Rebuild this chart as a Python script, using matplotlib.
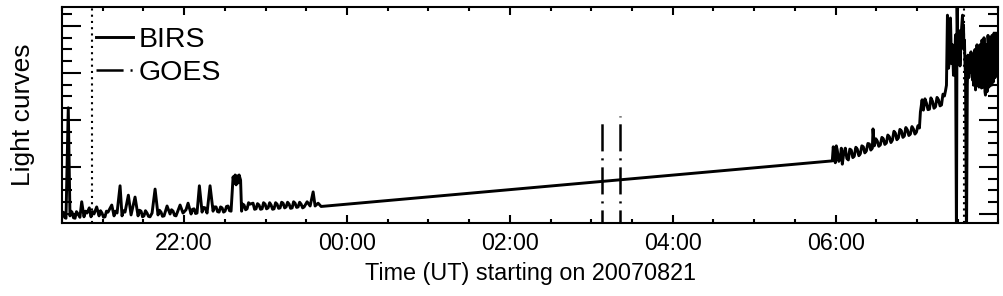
import numpy as np
import matplotlib
matplotlib.use("Agg")
import matplotlib.pyplot as plt
import matplotlib.ticker as mticker

plt.rcParams["font.family"] = ["Liberation Sans", "DejaVu Sans"]
plt.rcParams["lines.scale_dashes"] = False

# BIRS light curve, hours since 00:00 UT on 20070821 (values > 24 are next day)
# quiet part before the data gap
birs_hours_early = [
    20.500, 20.512, 20.525, 20.537, 20.549, 20.577, 20.598, 20.610, 20.623, 20.641,
    20.660, 20.678, 20.697, 20.720, 20.742, 20.770, 20.788, 20.807, 20.835, 20.856,
    20.875, 20.893, 20.926, 20.955, 20.973, 20.991, 21.010, 21.028, 21.046, 21.065,
    21.111, 21.139, 21.158, 21.176, 21.213, 21.237, 21.255, 21.274, 21.315, 21.348,
    21.397, 21.434, 21.452, 21.471, 21.489, 21.507, 21.525, 21.544, 21.562, 21.581,
    21.606, 21.643, 21.679, 21.697, 21.716, 21.734, 21.753, 21.790, 21.827, 21.845,
    21.864, 21.882, 21.900, 21.950, 21.986, 22.023, 22.048, 22.085, 22.103, 22.122,
    22.140, 22.158, 22.187, 22.220, 22.238, 22.257, 22.281, 22.318, 22.355, 22.373,
    22.392, 22.410, 22.429, 22.447, 22.466, 22.484, 22.502, 22.520, 22.539, 22.557,
    22.576, 22.601, 22.613, 22.626, 22.638, 22.650, 22.662, 22.675, 22.693, 22.705,
    22.720, 22.736, 22.755, 22.773, 22.791, 22.810, 22.846, 22.865, 22.883, 22.901,
    22.920, 22.938, 22.957, 22.975, 22.994, 23.012, 23.031, 23.050, 23.068, 23.086,
    23.104, 23.123, 23.141, 23.160, 23.178, 23.197, 23.215, 23.234, 23.252, 23.270,
    23.289, 23.307, 23.326, 23.344, 23.362, 23.381, 23.399, 23.418, 23.436, 23.455,
    23.473, 23.510, 23.547, 23.584, 23.608, 23.645, 23.682,
]
birs_flux_early = [
    -0.06, 0.04, 0.02, -0.08, -0.09, 2.26, -0.04, 0.06, 0.04, -0.08,
    -0.09, 0.05, 0.00, -0.07, 0.26, -0.06, 0.06, 0.02, 0.13, -0.06,
    0.05, 0.00, 0.15, -0.04, 0.07, 0.02, -0.07, -0.06, 0.06, 0.04,
    0.19, -0.04, 0.06, 0.02, 0.60, -0.04, 0.07, 0.04, 0.40, -0.02,
    0.36, -0.04, 0.08, 0.06, -0.06, -0.04, 0.07, 0.02, -0.05, -0.06,
    0.02, 0.53, -0.02, 0.08, 0.04, -0.05, -0.04, 0.17, 0.00, 0.09,
    0.06, -0.03, -0.04, 0.19, 0.02, 0.09, 0.23, 0.00, 0.10, 0.11,
    0.01, 0.02, 0.60, 0.04, 0.14, 0.13, 0.02, 0.60, 0.06, 0.15,
    0.15, 0.05, 0.04, 0.15, 0.13, 0.04, 0.06, 0.16, 0.17, 0.07,
    0.06, 0.79, 0.66, 0.83, 0.62, 0.81, 0.66, 0.83, 0.72, 0.06,
    0.21, 0.19, 0.09, 0.11, 0.24, 0.21, 0.23, 0.10, 0.11, 0.22,
    0.19, 0.10, 0.11, 0.24, 0.21, 0.11, 0.13, 0.24, 0.19, 0.10,
    0.11, 0.24, 0.21, 0.12, 0.13, 0.25, 0.23, 0.13, 0.15, 0.25,
    0.21, 0.12, 0.13, 0.26, 0.23, 0.14, 0.15, 0.25, 0.21, 0.13,
    0.15, 0.26, 0.17, 0.47, 0.17, 0.23, 0.16,
]

# morning part up to and through the flare
birs_hours_late = [
    29.959, 29.971, 29.984, 29.996, 30.008, 30.020, 30.039, 30.057, 30.070, 30.082,
    30.100, 30.119, 30.138, 30.156, 30.174, 30.192, 30.211, 30.229, 30.248, 30.266,
    30.285, 30.303, 30.322, 30.340, 30.358, 30.377, 30.396, 30.414, 30.432, 30.451,
    30.459, 30.475, 30.494, 30.512, 30.530, 30.549, 30.568, 30.586, 30.604, 30.623,
    30.641, 30.660, 30.679, 30.697, 30.716, 30.734, 30.752, 30.771, 30.789, 30.807,
    30.826, 30.844, 30.862, 30.881, 30.899, 30.918, 30.937, 30.955, 30.974, 30.992,
    31.011, 31.029, 31.041, 31.062, 31.070, 31.078, 31.097, 31.115, 31.134, 31.152,
    31.170, 31.189, 31.208, 31.226, 31.245, 31.263, 31.282, 31.300, 31.318, 31.336,
    31.349, 31.361, 31.373, 31.386, 31.398, 31.410, 31.423, 31.435, 31.447, 31.459,
    31.472, 31.484, 31.491, 31.500, 31.508, 31.515, 31.521, 31.527, 31.533, 31.545,
    31.558, 31.564, 31.570, 31.576, 31.582, 31.588, 31.595, 31.607, 31.617, 31.625,
    31.635, 31.644, 31.656, 31.662, 31.668, 31.681, 31.687, 31.693, 31.699, 31.705,
    31.711, 31.718, 31.724, 31.730, 31.736, 31.742, 31.748, 31.754, 31.760, 31.767,
    31.773, 31.779, 31.785, 31.791, 31.797, 31.804, 31.810, 31.816, 31.822, 31.828,
    31.834, 31.840, 31.846, 31.853, 31.859, 31.865, 31.871, 31.877, 31.883, 31.889,
    31.895, 31.902, 31.908, 31.914, 31.920, 31.926, 31.932, 31.939, 31.945, 31.951,
    31.957, 31.963, 31.969, 31.976, 31.982, 31.988, 31.994, 32.000,
]
birs_flux_late = [
    1.13, 1.43, 1.20, 1.09, 1.45, 1.36, 1.12, 1.19, 1.40, 1.06,
    1.30, 1.40, 1.18, 1.15, 1.38, 1.36, 1.20, 1.23, 1.42, 1.38,
    1.24, 1.28, 1.45, 1.43, 1.30, 1.34, 1.50, 1.49, 1.36, 1.40,
    1.81, 1.45, 1.60, 1.55, 1.44, 1.47, 1.63, 1.60, 1.48, 1.51,
    1.68, 1.64, 1.52, 1.57, 1.76, 1.72, 1.58, 1.62, 1.80, 1.77,
    1.63, 1.66, 1.84, 1.79, 1.67, 1.70, 1.86, 1.81, 1.70, 1.74,
    1.88, 1.83, 2.17, 2.43, 2.26, 2.21, 2.45, 2.36, 2.22, 2.23,
    2.47, 2.40, 2.25, 2.28, 2.48, 2.43, 2.30, 2.32, 2.55, 2.51,
    2.62, 2.74, 4.23, 3.10, 3.28, 4.17, 3.20, 3.60, 2.95, 3.06,
    3.81, -0.60, 4.70, 3.49, 3.28, 3.90, 3.60, 3.15, 3.38, 3.91,
    4.23, 3.80, 4.02, 3.50, 3.70, 3.20, 2.96, -0.60, 2.74, 3.38,
    2.90, 3.17, 3.02, 3.45, 3.28, 2.85, 3.30, 2.74, 3.40, 3.06,
    3.50, 2.64, 3.45, 3.17, 3.60, 2.74, 3.55, 3.38, 2.70, 2.81,
    3.60, 3.49, 2.75, 2.68, 3.70, 3.53, 2.70, 2.85, 3.75, 3.28,
    2.60, 2.53, 3.30, 3.60, 2.60, 2.79, 3.80, 3.62, 2.70, 2.89,
    3.75, 3.49, 2.85, 2.74, 3.80, 3.66, 2.80, 2.85, 3.85, 3.70,
    2.90, 2.96, 3.85, 3.64, 3.00, 3.06, 3.75, 3.60,
]

# GOES curve (only the two excursions visible inside the plotted range)
goes_hours = [27.130, 27.130, np.nan, 27.346, 27.346]
goes_flux = [-0.50, 1.94, np.nan, -0.50, 2.09]

# dotted event markers
marker_hours = [20.872, 31.572]

tick_hours = [22, 24, 26, 28, 30]


def hour_label(h, pos=None):
    return f"{int(round(h)) % 24:02d}:00"


birs_hours = birs_hours_early + birs_hours_late
birs_flux = birs_flux_early + birs_flux_late

fig = plt.figure(figsize=(10.04, 2.96), dpi=100)
ax = fig.add_axes([62 / 1004, 73.5 / 296, 936.5 / 1004, 215.5 / 296])

line_birs, = ax.plot(birs_hours, birs_flux, color="black", lw=2.1)
line_goes, = ax.plot(goes_hours, goes_flux, color="black", lw=1.8,
                     linestyle=(0, (19.5, 5, 1.5, 5)))
for h in marker_hours:
    ax.axvline(h, color="black", lw=1.5, linestyle=(0, (1.5, 3)))

ax.set_xlim(20.5, 32.0)
ax.set_ylim(-0.181, 4.404)

ax.xaxis.set_major_locator(mticker.FixedLocator(tick_hours))
ax.xaxis.set_minor_locator(mticker.MultipleLocator(0.5))
ax.xaxis.set_major_formatter(mticker.FuncFormatter(hour_label))
ax.yaxis.set_major_locator(mticker.MultipleLocator(1))
ax.yaxis.set_minor_locator(mticker.MultipleLocator(0.25))
ax.yaxis.set_major_formatter(mticker.NullFormatter())

ax.tick_params(which="both", direction="in", top=True, right=True, width=1.5, color="black")
ax.tick_params(axis="x", which="major", length=5.5, pad=6.5, labelsize=16.7)
ax.tick_params(axis="x", which="minor", length=3)
ax.tick_params(axis="y", which="major", length=13.7)
ax.tick_params(axis="y", which="minor", length=7.2)
for sp in ax.spines.values():
    sp.set_linewidth(1.5)

ax.set_xlabel("Time (UT) starting on 20070821", fontsize=16.8, labelpad=5.5)
ax.set_ylabel("Light curves", fontsize=19)
ax.yaxis.set_label_coords(-0.0288, 0.5)

ax.legend([line_birs, line_goes], ["BIRS", "GOES"], loc="upper left",
          bbox_to_anchor=((96 - 62) / 936.5, (222.5 - 27) / 215.5),
          frameon=False, fontsize=20.5, handlelength=1.3, handletextpad=0.18,
          labelspacing=0.26, borderpad=0, borderaxespad=0)

fig.savefig("out.png", dpi=100)
plt.close(fig)
